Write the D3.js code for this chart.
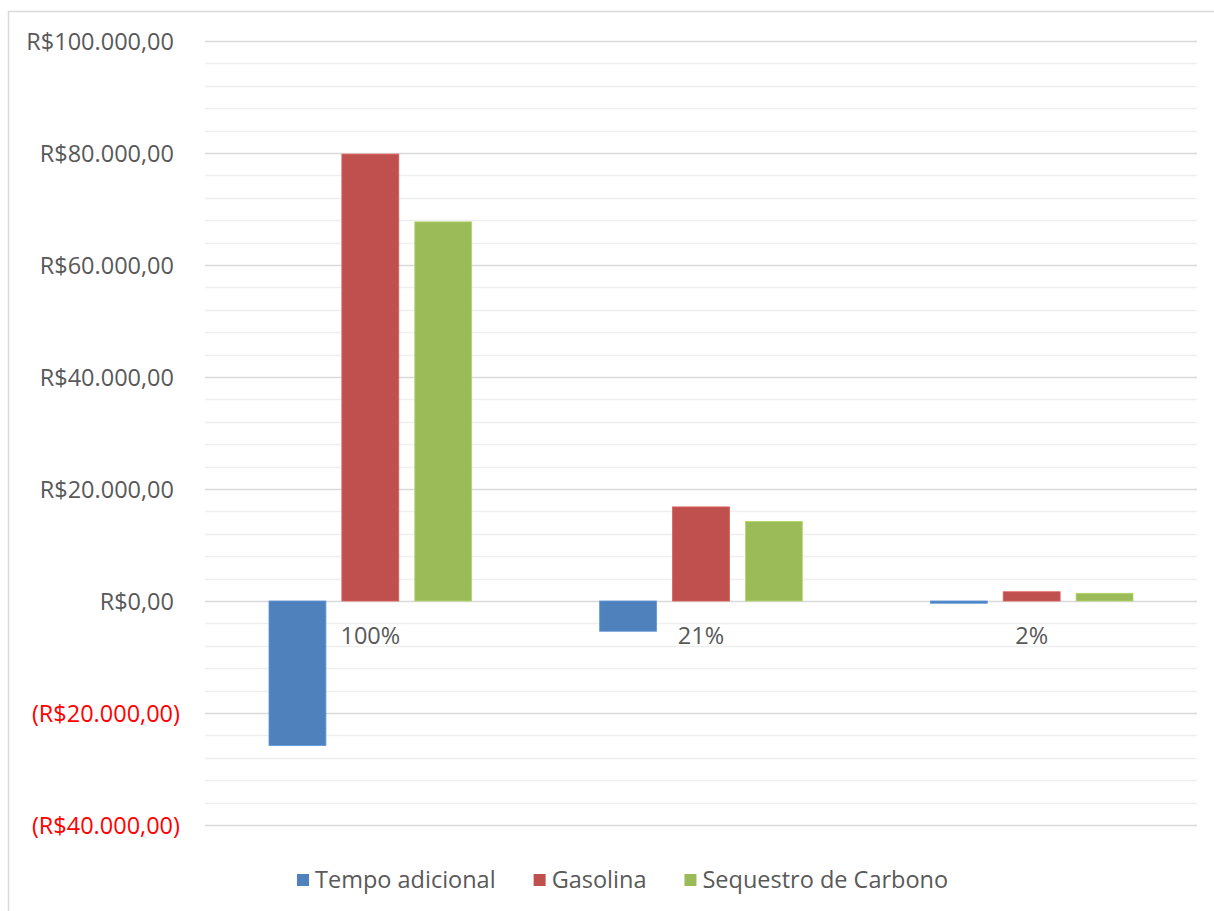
<!DOCTYPE html>
<html>
<head>
<meta charset="utf-8">
<script src="https://cdn.jsdelivr.net/npm/d3@7"></script>
<style>
  html, body { margin: 0; padding: 0; background: #fff; }
  svg { display: block; font-family: "Open Sans", sans-serif; }
</style>
</head>
<body>
<svg id="chart" width="1214" height="911"></svg>
<script>
// Scenario shares and the economic value of each component (R$)
const categories = ["100%", "21%", "2%"];
const seriesNames = ["Tempo adicional", "Gasolina", "Sequestro de Carbono"];
const tempoAdicional = [-25800, -5400, -400];
const gasolina = [79800, 16800, 1650];
const sequestroCarbono = [67700, 14200, 1380];
const seriesColors = ["#4F81BD", "#C0504D", "#9BBB59"];
const yTicks = [-40000, -20000, 0, 20000, 40000, 60000, 80000, 100000];

const seriesValues = [tempoAdicional, gasolina, sequestroCarbono];

const svg = d3.select("#chart");
const W = 1214, H = 911;
const plot = { left: 205, right: 1197, top: 41, bottom: 825 };
const fontSize = 23.5;

// chart frame (runs past the visible page on right/bottom)
svg.append("rect")
  .attr("x", 8.5).attr("y", 11.5)
  .attr("width", W + 20).attr("height", H + 20)
  .attr("fill", "#fff").attr("stroke", "#d9d9d9").attr("stroke-width", 1.5);

const y = d3.scaleLinear().domain([-40000, 100000]).range([plot.bottom, plot.top]);
const x0 = d3.scaleBand().domain(categories).range([plot.left, plot.right]).paddingInner(0).paddingOuter(0);
const groupPad = 64;
const x1 = d3.scaleBand().domain(seriesNames)
  .range([groupPad, x0.bandwidth() - groupPad])
  .paddingInner(16 / 73).paddingOuter(0);

// minor gridlines every 4.000
const minor = d3.range(-40000, 100001, 4000).filter(v => v % 20000 !== 0);
svg.append("g").selectAll("line").data(minor).join("line")
  .attr("x1", plot.left).attr("x2", plot.right)
  .attr("y1", d => Math.round(y(d)) + 0.5).attr("y2", d => Math.round(y(d)) + 0.5)
  .attr("stroke", "#efefef").attr("stroke-width", 1.5);

// major gridlines + y labels
const yAxis = d3.axisLeft(y).tickValues(yTicks).tickSize(0).tickPadding(0)
  .tickFormat(d => {
    const s = "R$" + d3.format(",.2f")(Math.abs(d)).replace(/,/g, "#").replace(".", ",").replace(/#/g, ".");
    return d < 0 ? "(" + s + ")" : s;
  });
const gy = svg.append("g").attr("transform", `translate(${plot.left},0)`).call(yAxis);
gy.select(".domain").remove();
gy.selectAll(".tick line")
  .attr("x1", 0).attr("x2", plot.right - plot.left)
  .attr("stroke", "#d9d9d9").attr("stroke-width", 1.5);
gy.selectAll(".tick text")
  .attr("x", d => d < 0 ? -25 : -31)
  .attr("dy", "0.35em")
  .attr("font-size", fontSize)
  .attr("font-family", "Open Sans, sans-serif")
  .attr("fill", d => d < 0 ? "#ff0000" : "#595959");

// bars
const groups = svg.append("g").selectAll("g").data(categories).join("g")
  .attr("transform", d => `translate(${x0(d)},0)`);
groups.selectAll("rect")
  .data((c, i) => seriesNames.map((s, k) => ({ s, k, v: seriesValues[k][i] })))
  .join("rect")
  .attr("x", d => x1(d.s))
  .attr("width", x1.bandwidth())
  .attr("y", d => y(Math.max(0, d.v)))
  .attr("height", d => Math.abs(y(d.v) - y(0)))
  .attr("fill", d => seriesColors[d.k])
  .attr("stroke", d => d3.color(seriesColors[d.k]).brighter(0.4))
  .attr("stroke-width", 0.8);

// category labels just below the zero line
svg.append("g").selectAll("text").data(categories).join("text")
  .attr("x", d => x0(d) + x0.bandwidth() / 2)
  .attr("y", y(0) + 43)
  .attr("text-anchor", "middle")
  .attr("font-size", fontSize)
  .attr("fill", "#595959")
  .text(d => d);

// legend
const legend = svg.append("g").attr("transform", "translate(297,880)");
let lx = 0;
seriesNames.forEach((name, i) => {
  const g = legend.append("g").attr("transform", `translate(${lx},0)`);
  g.append("rect").attr("x", 0).attr("y", -6).attr("width", 12).attr("height", 12)
    .attr("fill", seriesColors[i]);
  const t = g.append("text").attr("x", 18).attr("y", 0).attr("dy", "0.35em")
    .attr("font-size", fontSize).attr("fill", "#595959").text(name);
  lx += 18 + t.node().getComputedTextLength() + 38;
});
</script>
</body>
</html>
